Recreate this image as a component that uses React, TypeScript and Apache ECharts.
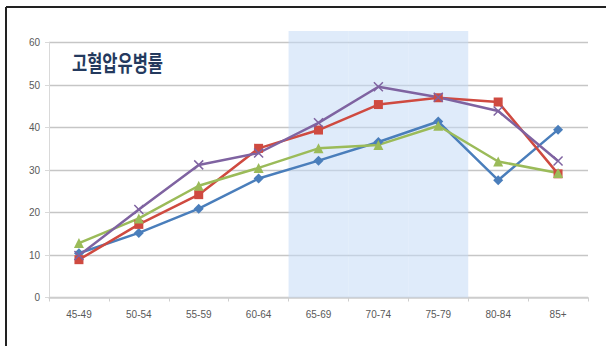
import React, { useEffect, useRef } from "react";
import * as echarts from "echarts";

const categories = ["45-49", "50-54", "55-59", "60-64", "65-69", "70-74", "75-79", "80-84", "85+"];
const blueValues = [10.4, 15.2, 20.9, 28.0, 32.2, 36.6, 41.4, 27.6, 39.5];
const redValues = [8.9, 17.2, 24.2, 35.1, 39.4, 45.4, 47.0, 46.0, 29.1];
const greenValues = [12.8, 18.6, 26.3, 30.5, 35.1, 35.9, 40.4, 32.0, 29.3];
const purpleValues = [9.9, 20.7, 31.2, 34.0, 41.1, 49.6, 47.1, 43.9, 32.1];
const shadeValues = [null, null, null, null, 62.7, 62.7, 62.7, null, null];
const yTicks = { min: 0, max: 60, interval: 10 };
const titleText = "고혈압유병률";

export default function App() {
  const ref = useRef<HTMLDivElement>(null);
  useEffect(() => {
    if (!ref.current) return;
    const chart = echarts.init(ref.current, null, { renderer: "svg" });
    const lineBase = (name: string, data: number[], color: string, symbol: string, size: number, extra: any = {}) => ({
      name,
      type: "line",
      data,
      z: 3,
      symbol,
      symbolSize: size,
      lineStyle: { color, width: 2.5 },
      itemStyle: { color, ...extra },
    });
    chart.setOption({
      animation: false,
      backgroundColor: "#ffffff",
      textStyle: { fontFamily: "Liberation Sans, Arial, sans-serif" },
      grid: { left: 49, right: 18, top: 42.5, bottom: 48.5, containLabel: false },
      xAxis: {
        type: "category",
        data: categories,
        boundaryGap: true,
        axisLine: { show: true, lineStyle: { color: "#cfcfcf", width: 1.5 } },
        axisTick: { show: true, length: 4, lineStyle: { color: "#cfcfcf" } },
        axisLabel: { color: "#595959", fontSize: 10, margin: 12 },
        splitLine: { show: false },
      },
      yAxis: {
        type: "value",
        min: yTicks.min,
        max: yTicks.max,
        interval: yTicks.interval,
        axisLine: { show: true, lineStyle: { color: "#d9d9d9", width: 1 } },
        axisTick: { show: true, length: 4, lineStyle: { color: "#d9d9d9" } },
        axisLabel: { color: "#595959", fontSize: 10, margin: 9 },
        splitLine: { show: true, lineStyle: { color: "#c6c6c6", width: 1.3 } },
      },
      series: [
        {
          name: "shade",
          type: "bar",
          data: shadeValues,
          barWidth: "100%",
          barCategoryGap: 0,
          clip: false,
          z: 1,
          silent: true,
          itemStyle: { color: "rgba(196,219,245,0.55)" },
        },
        lineBase("blue", blueValues, "#4a7ebb", "diamond", 10),
        lineBase("red", redValues, "#cf4a40", "rect", 9),
        lineBase("green", greenValues, "#9bbb59", "triangle", 10),
        lineBase("purple", purpleValues, "#7f63a1", "path://M0,0 L10,10 M10,0 L0,10", 9, {
          borderColor: "#7f63a1",
          borderWidth: 1.5,
        }),
      ],
      graphic: [
        {
          type: "line",
          shape: { x1: 6, y1: 7, x2: 606, y2: 7 },
          style: { stroke: "#222222", lineWidth: 2 },
          z: 10,
        },
        {
          type: "line",
          shape: { x1: 6, y1: 7, x2: 6, y2: 346 },
          style: { stroke: "#222222", lineWidth: 2 },
          z: 10,
        },
        {
          type: "text",
          x: 72,
          y: 50,
          scaleX: 0.75,
          style: {
            text: titleText,
            fill: "#243a5e",
            font: "bold 22px 'Noto Sans CJK KR', sans-serif",
          },
          z: 10,
        },
      ],
    });
    return () => chart.dispose();
  }, []);
  return (
    <div
      ref={ref}
      style={{ position: "fixed", left: 0, top: 0, width: 606, height: 346, background: "#fff" }}
    />
  );
}
